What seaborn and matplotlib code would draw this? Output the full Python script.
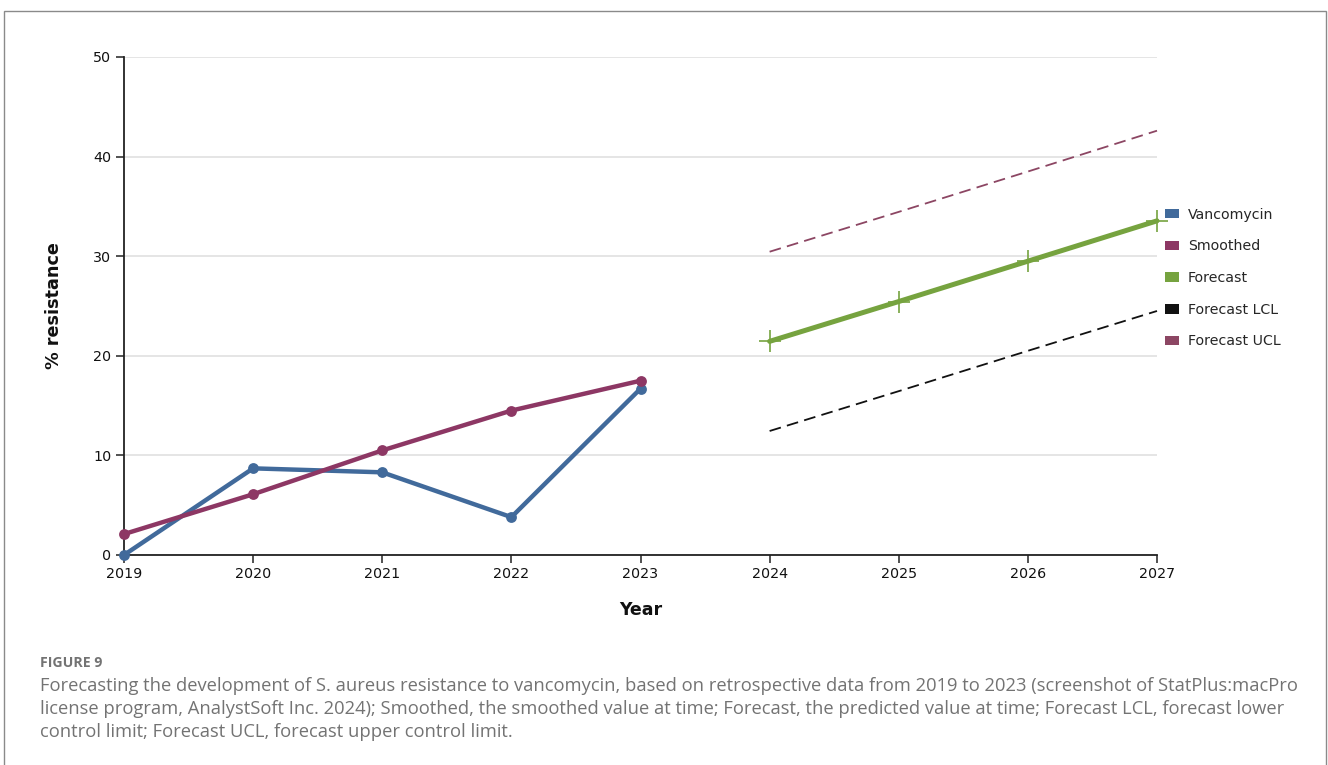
import numpy as np
import pandas as pd
import matplotlib
matplotlib.use("Agg")
import matplotlib.pyplot as plt
from matplotlib.patches import Patch, Rectangle
import seaborn as sns

# Observed and smoothed resistance (2019-2023)
years_obs = [2019, 2020, 2021, 2022, 2023]
vancomycin = [0.0, 8.7, 8.3, 3.8, 16.7]
smoothed = [2.1, 6.1, 10.5, 14.5, 17.5]

# Forecast with control limits (2024-2027)
years_fc = [2024, 2025, 2026, 2027]
forecast = [21.45, 25.45, 29.5, 33.55]
forecast_lcl = [12.45, 16.45, 20.5, 24.5]
forecast_ucl = [30.45, 34.45, 38.5, 42.6]

x_ticks = [2019, 2020, 2021, 2022, 2023, 2024, 2025, 2026, 2027]
y_ticks = [0, 10, 20, 30, 40, 50]

series_labels = ["Vancomycin", "Smoothed", "Forecast", "Forecast LCL", "Forecast UCL"]
series_colors = ["#416a9b", "#8d3764", "#76a33f", "#111111", "#8c4663"]

caption_title = "FIGURE 9"
caption_lines = [
    "Forecasting the development of S. aureus resistance to vancomycin, based on retrospective data from 2019 to 2023 (screenshot of StatPlus:macPro",
    "license program, AnalystSoft Inc. 2024); Smoothed, the smoothed value at time; Forecast, the predicted value at time; Forecast LCL, forecast lower",
    "control limit; Forecast UCL, forecast upper control limit.",
]

sns.set_theme(style="white")
plt.rcParams["font.family"] = ["DejaVu Sans"]

W, H = 1328, 765
fig = plt.figure(figsize=(W / 100, H / 100), dpi=100)
fig.patch.set_facecolor("white")

# frame around the whole figure panel
fig.add_artist(Rectangle((4 / W, -0.01), (1326 - 4) / W, 1 - 11 / H + 0.01,
                         transform=fig.transFigure, fill=False,
                         edgecolor="#8a8a8a", linewidth=1.0))

ax_l, ax_r, ax_t, ax_b = 124, 1157, 57, 555
ax = fig.add_axes([ax_l / W, 1 - ax_b / H, (ax_r - ax_l) / W, (ax_b - ax_t) / H])
ax.set_facecolor("white")

obs = pd.DataFrame({"year": years_obs, "vancomycin": vancomycin, "smoothed": smoothed})
fc = pd.DataFrame({"year": years_fc, "forecast": forecast,
                   "lcl": forecast_lcl, "ucl": forecast_ucl})

sns.lineplot(data=obs, x="year", y="vancomycin", ax=ax, color=series_colors[0],
             linewidth=3.2, marker="o", markersize=7.8, markeredgewidth=0,
             clip_on=False, zorder=4)
sns.lineplot(data=obs, x="year", y="smoothed", ax=ax, color=series_colors[1],
             linewidth=3.2, marker="o", markersize=7.8, markeredgewidth=0,
             clip_on=False, zorder=5)
sns.lineplot(data=fc, x="year", y="forecast", ax=ax, color=series_colors[2],
             linewidth=3.6, marker="+", markersize=16, markeredgewidth=1.2,
             markeredgecolor=series_colors[2], clip_on=False, zorder=4)
sns.lineplot(data=fc, x="year", y="lcl", ax=ax, color=series_colors[3],
             linewidth=1.3, dashes=False, clip_on=False, zorder=3)
sns.lineplot(data=fc, x="year", y="ucl", ax=ax, color=series_colors[4],
             linewidth=1.3, dashes=False, clip_on=False, zorder=3)
for ln in ax.get_lines()[-2:]:
    ln.set_linestyle((0, (6.5, 3.5)))

ax.set_xlim(2019, 2027)
ax.set_ylim(0, 50)
ax.set_xticks(x_ticks)
ax.set_xticklabels([str(t) for t in x_ticks])
ax.set_yticks(y_ticks)

ax.grid(axis="y", color="#e3e3e3", linewidth=1.3)
ax.grid(axis="x", visible=False)
ax.set_axisbelow(True)

for side in ("top", "right"):
    ax.spines[side].set_visible(False)
for side in ("left", "bottom"):
    ax.spines[side].set_color("#222222")
    ax.spines[side].set_linewidth(1.3)

ax.tick_params(axis="both", which="both", direction="out", length=6, width=1.1,
               color="#222222", labelsize=10.3, labelcolor="#111111", pad=3,
               left=True, bottom=True)

ax.set_xlabel("Year", fontsize=12.5, fontweight="bold", color="#111111", labelpad=14)
ax.set_ylabel("% resistance", fontsize=12.7, fontweight="bold", color="#111111", labelpad=22)

handles = [Patch(facecolor=c, edgecolor="none") for c in series_colors]
fig.legend(handles, series_labels, loc="upper left",
           bbox_to_anchor=(1159 / W, 1 - 202 / H), frameon=False,
           fontsize=10.2, handlelength=1.0, handleheight=0.65,
           handletextpad=0.65, labelspacing=1.25, borderaxespad=0)

# caption beneath the chart
fig.text(40 / W, 1 - 663 / H, caption_title, fontsize=10.2, fontweight="bold",
         color="#737373", family=["Open Sans", "DejaVu Sans"], va="center")
for i, line in enumerate(caption_lines):
    fig.text(40 / W, 1 - (686 + 23 * i) / H, line, fontsize=13.23,
             color="#737373", family=["Open Sans", "DejaVu Sans"], va="center")

fig.savefig("out.png", dpi=100, facecolor="white")
